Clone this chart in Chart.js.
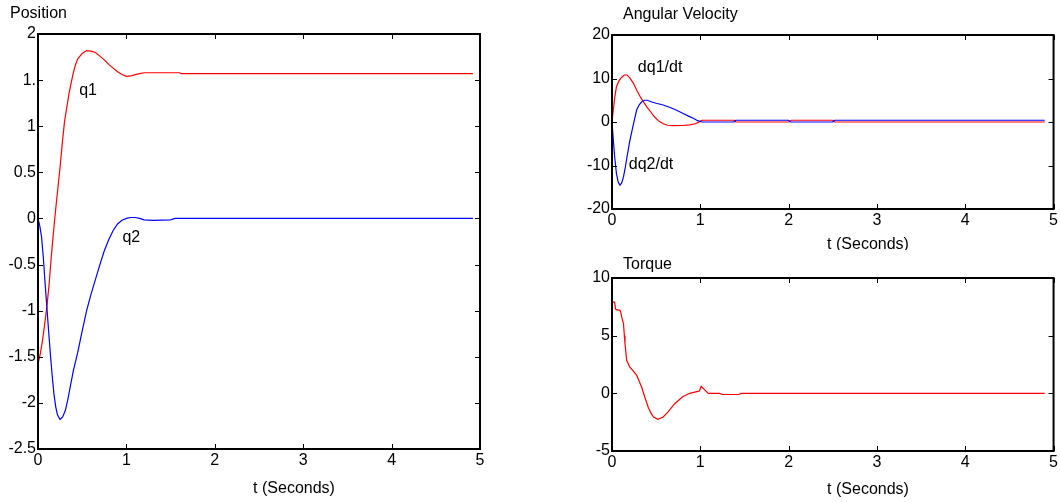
<!DOCTYPE html>
<html>
<head>
<meta charset="utf-8">
<title>Position, Angular Velocity, Torque</title>
<script src="https://cdn.jsdelivr.net/npm/chart.js@4.4.1/dist/chart.umd.min.js"></script>
<style>
  body { margin: 0; background: #fff; width: 1060px; height: 502px; overflow: hidden; position: relative; }
  canvas { position: absolute; }
</style>
</head>
<body>
<canvas id="posChart" style="left:0;top:0" width="520" height="502"></canvas>
<canvas id="velChart" style="left:560px;top:0" width="500" height="250"></canvas>
<canvas id="torqueChart" style="left:560px;top:250px" width="500" height="252"></canvas>
<script>
// joint positions
const q1Time = [0, 0.01, 0.025, 0.05, 0.075, 0.1, 0.125, 0.15, 0.17, 0.2, 0.225, 0.25, 0.275, 0.3, 0.325, 0.35, 0.375, 0.4, 0.425, 0.45, 0.5, 0.55, 0.6, 0.65, 0.7, 0.75, 0.8, 0.85, 0.9, 0.95, 1.0, 1.05, 1.1, 1.15, 1.2, 1.6, 1.62, 4.92];
const q1 = [-1.58, -1.58, -1.47, -1.33, -1.15, -0.96, -0.72, -0.42, -0.2, 0.1, 0.33, 0.56, 0.82, 1.05, 1.2, 1.35, 1.47, 1.58, 1.67, 1.73, 1.79, 1.82, 1.815, 1.8, 1.76, 1.72, 1.67, 1.63, 1.59, 1.56, 1.54, 1.545, 1.56, 1.57, 1.58, 1.58, 1.57, 1.57];
const q2Time = [0, 0.02, 0.04, 0.06, 0.08, 0.1, 0.12, 0.14, 0.16, 0.18, 0.2, 0.22, 0.25, 0.28, 0.31, 0.34, 0.37, 0.4, 0.45, 0.5, 0.55, 0.6, 0.65, 0.7, 0.75, 0.8, 0.85, 0.9, 0.95, 1.0, 1.05, 1.1, 1.15, 1.2, 1.3, 1.5, 1.55, 4.92];
const q2 = [0, -0.08, -0.2, -0.42, -0.7, -0.96, -1.22, -1.47, -1.7, -1.9, -2.04, -2.13, -2.18, -2.15, -2.08, -1.95, -1.8, -1.65, -1.45, -1.22, -1.0, -0.82, -0.66, -0.5, -0.35, -0.23, -0.13, -0.06, -0.02, 0.0, 0.01, 0.01, 0.0, -0.015, -0.02, -0.015, 0, 0];

// joint velocities
const dq1Time = [0, 0.015, 0.03, 0.05, 0.08, 0.11, 0.14, 0.17, 0.2, 0.24, 0.28, 0.32, 0.36, 0.4, 0.44, 0.48, 0.53, 0.58, 0.63, 0.7, 0.8, 0.88, 0.94, 0.98, 1.0, 1.02, 1.38, 1.4, 2.0, 2.03, 2.5, 2.52, 4.9];
const dq1 = [0, 2.8, 5.5, 8.1, 9.5, 10.3, 10.8, 10.8, 10.2, 9.0, 7.3, 5.8, 4.5, 3.3, 2.3, 1.2, 0.2, -0.4, -0.75, -0.85, -0.8, -0.65, -0.4, -0.1, 0.2, 0.4, 0.4, 0, 0, 0.4, 0.4, 0, 0];
const dq2Time = [0, 0.015, 0.03, 0.05, 0.07, 0.09, 0.11, 0.13, 0.15, 0.17, 0.2, 0.22, 0.25, 0.28, 0.31, 0.34, 0.37, 0.4, 0.45, 0.5, 0.58, 0.65, 0.72, 0.8, 0.86, 0.92, 0.97, 1.02, 1.38, 1.4, 2.0, 2.02, 2.5, 2.52, 4.9];
const dq2 = [0, -4.1, -8.0, -11.8, -13.8, -14.5, -14.0, -12.6, -10.5, -8.0, -4.5, -2.6, 0.2, 2.8, 4.0, 4.7, 5.0, 5.0, 4.6, 4.3, 3.9, 3.4, 2.8, 2.0, 1.4, 0.85, 0.3, 0, 0, 0.4, 0.4, 0, 0, 0.4, 0.4];

// control torque
const torqueTime = [0, 0.03, 0.04, 0.05, 0.09, 0.1, 0.11, 0.13, 0.14, 0.147, 0.166, 0.2, 0.24, 0.28, 0.31, 0.335, 0.37, 0.41, 0.44, 0.47, 0.52, 0.58, 0.635, 0.71, 0.8, 0.88, 0.96, 0.99, 1.01, 1.05, 1.09, 1.22, 1.25, 1.44, 1.46, 4.9];
const torque = [7.9, 7.9, 7.3, 7.25, 7.2, 7.0, 6.6, 6.05, 5.0, 4.3, 2.86, 2.3, 1.95, 1.56, 1.0, 0.55, -0.3, -1.2, -1.7, -2.05, -2.25, -2.05, -1.6, -0.9, -0.3, 0.0, 0.15, 0.2, 0.6, 0.3, 0.0, 0.0, -0.1, -0.1, 0.0, 0.0];

// axis ticks
const timeTicks = [0, 1, 2, 3, 4, 5];
const posTicks = [-2.5, -2, -1.5, -1, -0.5, 0, 0.5, 1, 1.5, 2];
const posTickText = ['-2.5', '-2', '-1.5', '-1', '-0.5', '0', '0.5', '1', '1.', '2'];
const velTicks = [-20, -10, 0, 10, 20];
const torqueTicks = [-5, 0, 5, 10];

const FONT = '"Liberation Sans", Arial, sans-serif';
const pts = (ts, vs) => ts.map((t, i) => ({ x: t, y: vs[i] }));

// box around the axes, inward tick marks, titles and curve labels
const panelText = {
  id: 'panelText',
  afterDatasetsDraw(chart, args, opts) {
    const { ctx, chartArea: a, scales: { x, y } } = chart;
    ctx.save();
    ctx.strokeStyle = '#000';
    ctx.lineWidth = 1;
    ctx.beginPath();
    x.ticks.forEach(t => {
      const px = Math.round(x.getPixelForValue(t.value)) + 0.5;
      ctx.moveTo(px, a.top); ctx.lineTo(px, a.top + 5);
      ctx.moveTo(px, a.bottom); ctx.lineTo(px, a.bottom - 5);
    });
    y.ticks.forEach(t => {
      const py = Math.round(y.getPixelForValue(t.value)) + 0.5;
      ctx.moveTo(a.left, py); ctx.lineTo(a.left + 5, py);
      ctx.moveTo(a.right, py); ctx.lineTo(a.right - 5, py);
    });
    ctx.stroke();
    ctx.lineWidth = 2;
    ctx.strokeRect(a.left, a.top, a.right - a.left, a.bottom - a.top);

    ctx.fillStyle = '#000';
    ctx.font = '16px ' + FONT;
    ctx.textBaseline = 'middle';
    ctx.textAlign = 'left';
    ctx.fillText(opts.title, opts.titleX, opts.titleY);
    ctx.textAlign = 'center';
    ctx.fillText(opts.xlabel, opts.xlabelX, opts.xlabelY);
    ctx.textAlign = 'left';
    (opts.notes || []).forEach(n => {
      ctx.fillText(n.text, x.getPixelForValue(n.x), y.getPixelForValue(n.y));
    });
    ctx.restore();
  }
};

function makeChart(id, datasets, yMin, yMax, yTicks, yText, yWidth, xHeight, pad, text) {
  return new Chart(document.getElementById(id), {
    type: 'line',
    data: { datasets },
    options: {
      responsive: false,
      animation: false,
      events: [],
      layout: { padding: pad },
      elements: { point: { radius: 0 }, line: { borderWidth: 1.2, tension: 0 } },
      scales: {
        x: {
          type: 'linear', min: 0, max: 5,
          afterBuildTicks: s => { s.ticks = timeTicks.map(v => ({ value: v })); },
          afterFit: s => { s.height = xHeight; },
          grid: { display: false, drawTicks: false },
          border: { display: false },
          ticks: { color: '#000', padding: 2, maxRotation: 0, font: { family: FONT, size: 16 } }
        },
        y: {
          type: 'linear', min: yMin, max: yMax,
          afterBuildTicks: s => { s.ticks = yTicks.map(v => ({ value: v })); },
          afterFit: s => { s.width = yWidth; },
          grid: { display: false, drawTicks: false },
          border: { display: false },
          ticks: {
            color: '#000', padding: 2, font: { family: FONT, size: 16 },
            callback: v => yText ? yText[yTicks.indexOf(v)] : String(v)
          }
        }
      },
      plugins: { legend: { display: false }, tooltip: { enabled: false }, panelText: text }
    },
    plugins: [panelText]
  });
}

makeChart('posChart', [
  { data: pts(q2Time, q2), borderColor: '#0000ff', order: 1 },
  { data: pts(q1Time, q1), borderColor: '#ff0000', order: 2 }
], -2.5, 2, posTicks, posTickText, 38, 53, { left: 0, top: 34, right: 40, bottom: 0 }, {
  title: 'Position', titleX: 10, titleY: 14,
  xlabel: 't (Seconds)', xlabelX: 294, xlabelY: 489,
  notes: [{ text: 'q1', x: 0.466, y: 1.39 }, { text: 'q2', x: 0.955, y: -0.21 }]
});

makeChart('velChart', [
  { data: pts(dq2Time, dq2), borderColor: '#0000ff', order: 1 },
  { data: pts(dq1Time, dq1), borderColor: '#ff0000', order: 2 }
], -20, 20, velTicks, null, 52, 41, { left: 0, top: 35, right: 5, bottom: 0 }, {
  title: 'Angular Velocity', titleX: 63, titleY: 15,
  xlabel: 't (Seconds)', xlabelX: 308, xlabelY: 245,
  notes: [{ text: 'dq1/dt', x: 0.293, y: 12.6 }, { text: 'dq2/dt', x: 0.19, y: -9.9 }]
});

makeChart('torqueChart', [
  { data: pts(torqueTime, torque), borderColor: '#ff0000' }
], -5, 10, torqueTicks, null, 52, 51, { left: 0, top: 28, right: 5, bottom: 0 }, {
  title: 'Torque', titleX: 63, titleY: 15,
  xlabel: 't (Seconds)', xlabelX: 308, xlabelY: 240
});
</script>
</body>
</html>
